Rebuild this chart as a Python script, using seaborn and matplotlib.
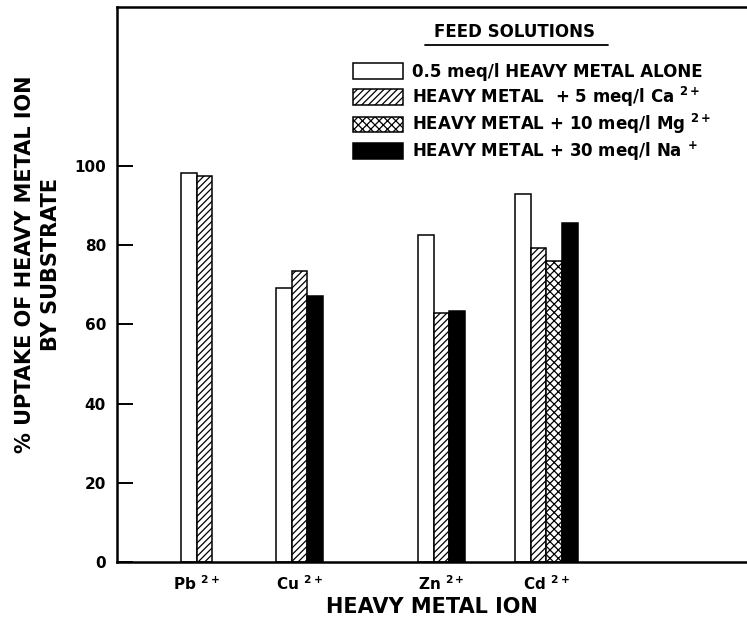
import numpy as np
import pandas as pd
import matplotlib
matplotlib.use("Agg")
import matplotlib.pyplot as plt
from matplotlib.patches import Patch
from matplotlib.lines import Line2D
import seaborn as sns

# ---------------- data ----------------
ions = [r"Pb $^{\mathbf{2+}}$", r"Cu $^{\mathbf{2+}}$", r"Zn $^{\mathbf{2+}}$", r"Cd $^{\mathbf{2+}}$"]
solutions = [
    "0.5 meq/l HEAVY METAL ALONE",
    r"HEAVY METAL  + 5 meq/l Ca $^{\mathbf{2+}}$",
    r"HEAVY METAL + 10 meq/l Mg $^{\mathbf{2+}}$",
    r"HEAVY METAL + 30 meq/l Na $^{\mathbf{+}}$",
]
alone = [98.2, 69.1, 82.6, 92.9]
ca = [97.6, 73.5, 62.8, 79.2]
mg = [np.nan, np.nan, np.nan, 76.0]
na = [np.nan, 67.2, 63.4, 85.5]
yticks = [0, 20, 40, 60, 80, 100]

# ---------------- layout (bar-width units) ----------------
group_left = [4.08, 10.13, 19.17, 25.35]
series = [alone, ca, mg, na]
faces = ["white", "white", "white", "black"]
hatches = ["", "/////", "xxxx", ""]

rows = []
centers = []
for gi, ion in enumerate(ions):
    k = 0
    for si, sol in enumerate(solutions):
        v = series[si][gi]
        if np.isnan(v):
            continue
        rows.append({"ion": ion, "solution": sol, "value": v,
                     "pos": group_left[gi] + k + 0.5})
        k += 1
    centers.append(group_left[gi] + k / 2)
df = pd.DataFrame(rows)

sns.set_theme(style="white")
plt.rcParams["font.family"] = ["DejaVu Sans"]
plt.rcParams["hatch.linewidth"] = 0.9
plt.rcParams["text.color"] = "black"
plt.rcParams["axes.labelcolor"] = "black"
plt.rcParams["xtick.color"] = "black"
plt.rcParams["ytick.color"] = "black"
plt.rcParams["mathtext.fontset"] = "dejavusans"

W, H = 747, 621
fig = plt.figure(figsize=(W / 100, H / 100), dpi=100)
ax = fig.add_axes([117 / W, 1 - 562 / H, 630 / W, 555 / H])

sns.barplot(data=df, x="pos", y="value", hue="solution", hue_order=solutions,
            palette=dict(zip(solutions, faces)), native_scale=True, dodge=False,
            width=1.0, edgecolor="black", linewidth=1.1, saturation=1,
            legend=False, ax=ax, err_kws={"linewidth": 0})

for cont, h in zip(ax.containers, hatches):
    for p in cont.patches:
        p.set_hatch(h)
        p.set_edgecolor("black")

ax.set_xlim(0, 630 / 15.7)
ax.set_ylim(0, 555 / 3.96)
ax.set_yticks(yticks)
ax.set_yticklabels([str(t) for t in yticks], fontsize=11, fontweight="bold")
ax.set_xticks(centers)
ax.set_xticklabels(ions, fontsize=11, fontweight="bold")
ax.tick_params(axis="y", direction="in", length=11.5, width=1.4, pad=8, left=True)
ax.tick_params(axis="x", length=0, pad=9)

for s in ["left", "bottom", "top"]:
    ax.spines[s].set_visible(True)
    ax.spines[s].set_color("black")
    ax.spines[s].set_linewidth(1.8)
ax.spines["right"].set_visible(False)

ax.set_xlabel("HEAVY METAL ION", fontsize=15, fontweight="bold", labelpad=3)
ax.set_ylabel("% UPTAKE OF HEAVY METAL ION\nBY SUBSTRATE", fontsize=15,
              fontweight="bold", linespacing=1.4, va="center")
ax.yaxis.set_label_coords((38 - 117) / 630, (562 - 264) / 555)

# legend
fs = 12
fs_px = fs * 100 / 72
handles = [Patch(facecolor=f, edgecolor="black", hatch=h, linewidth=1.1)
           for f, h in zip(faces, hatches)]
leg = ax.legend(handles, solutions, loc="upper left",
                bbox_to_anchor=(353 / W, 1 - 63 / H), bbox_transform=fig.transFigure,
                frameon=False, borderpad=0, borderaxespad=0,
                handlelength=50 / fs_px, handleheight=18 / fs_px,
                handletextpad=9 / fs_px, labelspacing=3.5 / fs_px,
                prop={"size": fs, "weight": "bold"})

fig.text(514 / W, 1 - 32 / H, "FEED SOLUTIONS", ha="center", va="center",
         fontsize=12, fontweight="bold")
fig.add_artist(Line2D([425 / W, 608 / W], [1 - 45 / H, 1 - 45 / H],
                      color="black", linewidth=1.3, transform=fig.transFigure))

fig.savefig("out.png", dpi=100)
